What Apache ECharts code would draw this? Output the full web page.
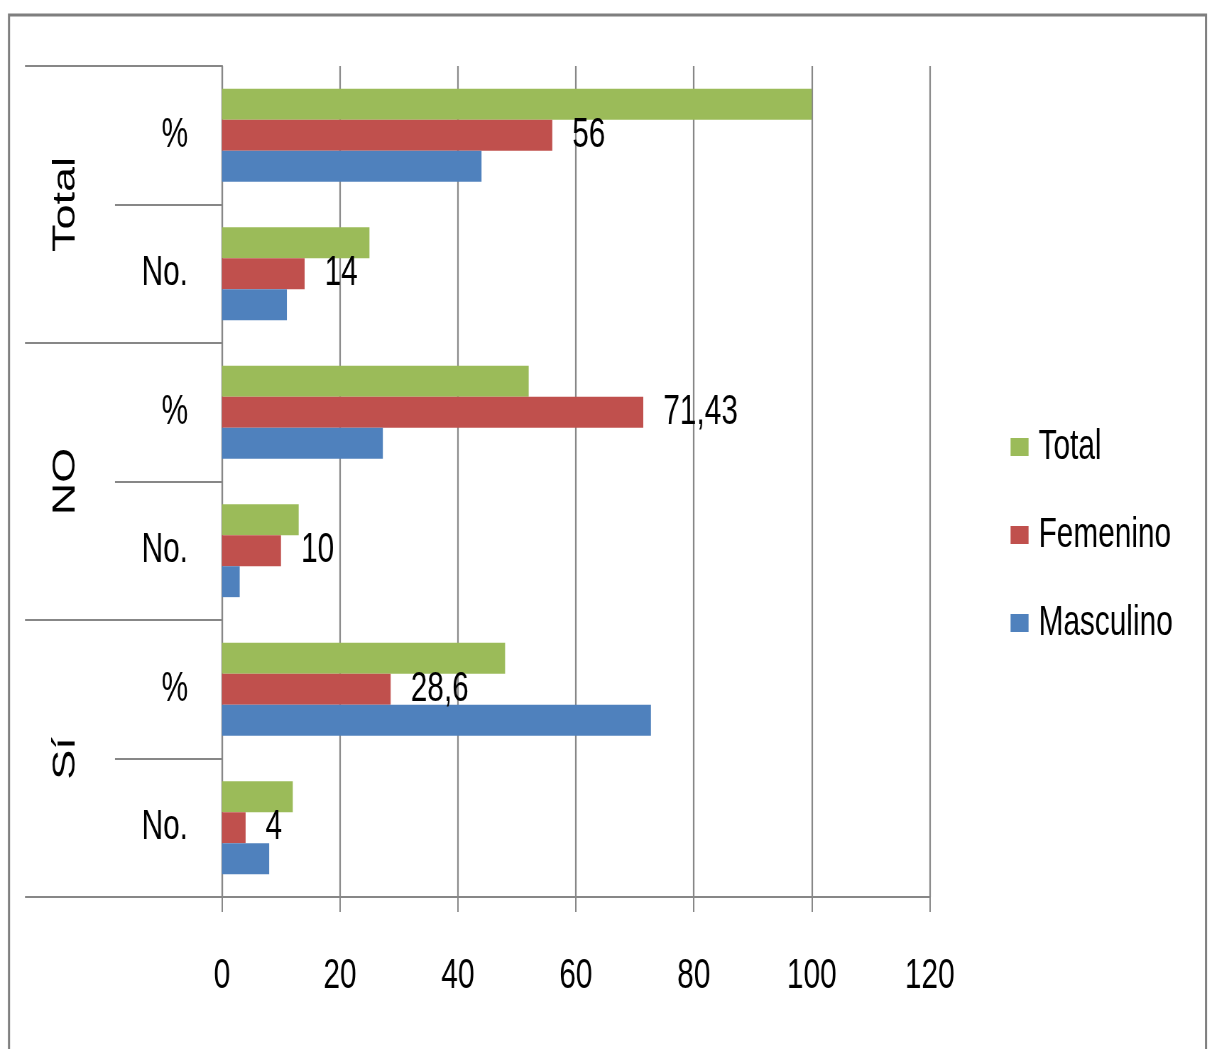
<!DOCTYPE html>
<html>
<head>
<meta charset="utf-8">
<script src="https://cdn.jsdelivr.net/npm/echarts@6/dist/echarts.min.js"></script>
<style>
  html, body { margin: 0; padding: 0; background: #fff; overflow: hidden; }
  #chart { height: 1049px; transform-origin: 0 0; }
</style>
</head>
<body>
<div id="chart"></div>
<script>
// Row keys, bottom to top: group | measure
const rowKeys = ['Sí|No.', 'Sí|%', 'NO|No.', 'NO|%', 'Total|No.', 'Total|%'];
const groups = ['Sí', 'NO', 'Total'];
const xTicks = [0, 20, 40, 60, 80, 100, 120];

const masculino = [8, 72.73, 3, 27.27, 11, 44];
const femenino  = [4, 28.6, 10, 71.43, 14, 56];
const total     = [12, 48, 13, 52, 25, 100];

// The chart is laid out wide and compressed horizontally, giving the
// narrow lettering of the original report figure.
const SX = 0.71;
const W = 1208, H = 1049;
const px = v => v / SX;   // horizontal length in pre-compression units

const el = document.getElementById('chart');
el.style.width = px(W) + 'px';
el.style.transform = 'scaleX(' + SX + ')';

const FONT = '"Liberation Sans", Arial, sans-serif';
const GRAY = '#878787';

const chart = echarts.init(el);

chart.setOption({
  backgroundColor: '#fff',
  animation: false,
  textStyle: { fontFamily: FONT, color: '#000' },
  graphic: [{
    type: 'rect',
    shape: { x: px(9), y: 15, width: px(1197), height: 1100 },
    style: { fill: 'none', stroke: '#7f7f7f', lineWidth: 3 },
    silent: true
  }],
  legend: {
    orient: 'vertical',
    left: px(1007),
    top: 421,
    data: ['Total', 'Femenino', 'Masculino'],
    icon: 'rect',
    itemWidth: px(18),
    itemHeight: 18,
    itemGap: 46,
    textStyle: { fontFamily: FONT, fontSize: 42, color: '#000', lineHeight: 42, padding: [0, 0, 0, 9] }
  },
  grid: { left: px(222), right: px(W - 930), top: 66, bottom: H - 897, containLabel: false },
  xAxis: {
    type: 'value',
    min: xTicks[0],
    max: xTicks[xTicks.length - 1],
    interval: 20,
    axisLine: { show: true, lineStyle: { color: GRAY, width: 2 } },
    axisTick: { show: true, length: 15, lineStyle: { color: GRAY, width: 2 } },
    splitLine: { show: true, lineStyle: { color: GRAY, width: 2.2 } },
    axisLabel: { fontFamily: FONT, fontSize: 42, color: '#000', margin: 58 }
  },
  yAxis: [{
    type: 'category',
    data: rowKeys,
    position: 'left',
    axisLine: { show: true, lineStyle: { color: GRAY, width: 2.2 } },
    axisTick: { show: true, length: px(107), lineStyle: { color: GRAY, width: 2 } },
    axisLabel: {
      fontFamily: FONT, fontSize: 42, color: '#000', margin: px(34),
      formatter: v => v.split('|')[1]
    }
  }, {
    type: 'category',
    data: groups,
    position: 'left',
    axisLine: { show: false },
    axisTick: { show: true, length: px(197), lineStyle: { color: GRAY, width: 2 } },
    axisLabel: {
      fontFamily: FONT, fontSize: 45, color: '#000',
      rotate: 90, margin: px(156), align: 'center', verticalAlign: 'middle'
    }
  }],
  series: [{
    name: 'Total', type: 'bar', data: total,
    itemStyle: { color: '#9BBB59' },
    barGap: '0%', barCategoryGap: '33%'
  }, {
    name: 'Femenino', type: 'bar', data: femenino,
    itemStyle: { color: '#C0504D' },
    barGap: '0%', barCategoryGap: '33%',
    label: {
      show: true, position: 'right', distance: px(20),
      fontFamily: FONT, fontSize: 42, color: '#000',
      formatter: p => String(p.value).replace('.', ',')
    }
  }, {
    name: 'Masculino', type: 'bar', data: masculino,
    itemStyle: { color: '#4F81BD' },
    barGap: '0%', barCategoryGap: '33%'
  }]
});
</script>
</body>
</html>
